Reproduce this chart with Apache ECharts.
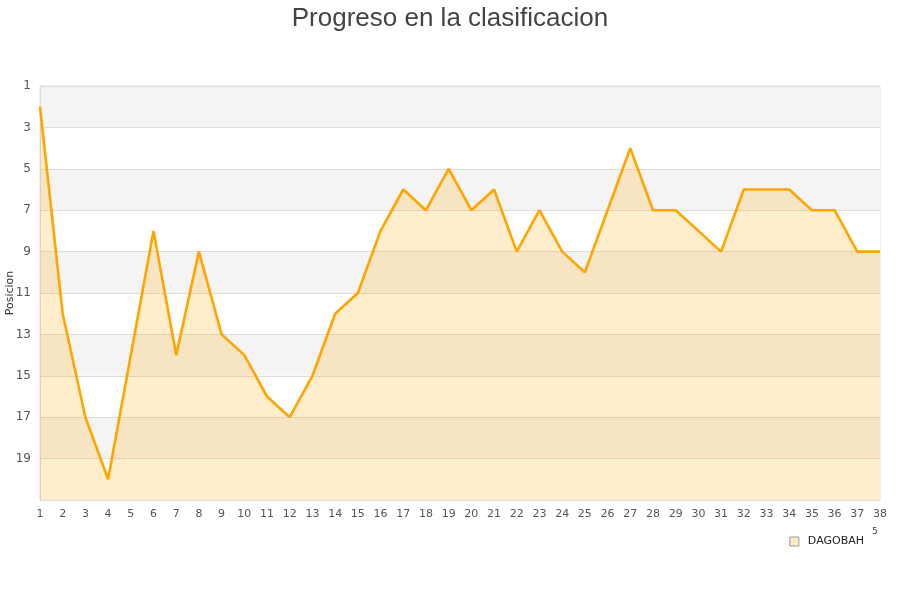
<!DOCTYPE html>
<html>
<head>
<meta charset="utf-8">
<title>Progreso en la clasificacion</title>
<script src="https://cdn.jsdelivr.net/npm/echarts@6/dist/echarts.min.js"></script>
<style>
  html, body { margin: 0; padding: 0; background: #fff; }
  #chart { width: 900px; height: 600px; }
</style>
</head>
<body>
<div id="chart"></div>
<script>
// jornadas 1..38
var rounds = [];
for (var i = 1; i <= 38; i++) { rounds.push(String(i)); }

// posicion de DAGOBAH en cada jornada
var positions = [2, 12, 17, 20, 14, 8, 14, 9, 13, 14,
                 16, 17, 15, 12, 11, 8, 6, 7, 5, 7,
                 6, 9, 7, 9, 10, 7, 4, 7, 7, 8,
                 9, 6, 6, 6, 7, 7, 9, 9];

// marcas del eje de posiciones
var yTicks = ['1', '3', '5', '7', '9', '11', '13', '15', '17', '19', '21'];

var chart = echarts.init(document.getElementById('chart'));

var option = {
    animation: false,
    title: {
        text: 'Progreso en la clasificacion',
        left: 'center',
        top: 1,
        textStyle: {
            fontFamily: 'Liberation Sans',
            fontSize: 26,
            fontWeight: 'normal',
            color: '#444'
        }
    },
    legend: {
        data: ['DAGOBAH'],
        right: 31,
        top: 531,
        icon: 'rect',
        itemWidth: 9,
        itemHeight: 9,
        itemStyle: {
            color: '#fde9c4',
            borderColor: '#999',
            borderWidth: 1
        },
        textStyle: {
            fontFamily: 'DejaVu Sans',
            fontSize: 11,
            color: '#222',
            padding: [0, 0, 0, 4]
        }
    },
    grid: {
        left: 40,
        right: 20,
        top: 86,
        bottom: 100,
        outerBoundsMode: 'none',
        containLabel: false,
        show: true,
        borderColor: '#ddd',
        borderWidth: 1
    },
    xAxis: {
        type: 'category',
        data: rounds,
        boundaryGap: false,
        axisLine: { lineStyle: { color: '#ddd' } },
        axisTick: { show: false },
        axisLabel: {
            interval: 0,
            margin: 9,
            fontFamily: 'DejaVu Sans',
            fontSize: 11,
            color: '#555'
        },
        splitLine: { show: false }
    },
    yAxis: [{
        type: 'value',
        min: 1,
        max: 21,
        inverse: true,
        show: false
    }, {
        type: 'category',
        data: yTicks,
        boundaryGap: false,
        inverse: true,
        position: 'left',
        name: 'Posicion',
        nameLocation: 'middle',
        nameGap: 24,
        nameMoveOverlap: false,
        nameTextStyle: {
            fontFamily: 'DejaVu Sans',
            fontSize: 11,
            color: '#333'
        },
        axisLine: { lineStyle: { color: '#ddd' } },
        axisTick: { show: false },
        axisLabel: {
            interval: 0,
            margin: 9,
            fontFamily: 'DejaVu Sans',
            fontSize: 12,
            color: '#555',
            formatter: function (v) { return v === '21' ? '' : v; }
        },
        splitLine: { show: true, lineStyle: { color: '#ddd' } },
        splitArea: { show: true, areaStyle: { color: ['#f4f4f4', '#ffffff'] } }
    }],
    graphic: [{
        type: 'text',
        left: 872,
        top: 527,
        style: { text: '5', fontFamily: 'DejaVu Sans', fontSize: 9, fill: '#444' }
    }],
    series: [{
        name: 'DAGOBAH',
        type: 'line',
        yAxisIndex: 0,
        data: positions,
        symbol: 'none',
        lineStyle: { color: '#ffa500', width: 2.6 },
        itemStyle: { color: '#ffa500' },
        areaStyle: { origin: 'end', color: '#ffa500', opacity: 0.2 }
    }]
};
chart.setOption(option);
</script>
</body>
</html>
